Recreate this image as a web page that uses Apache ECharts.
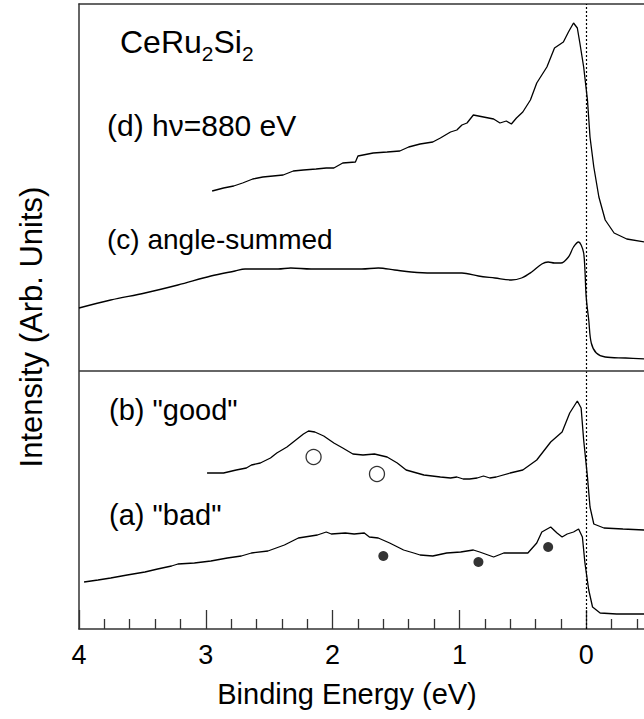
<!DOCTYPE html>
<html>
<head>
<meta charset="utf-8">
<script src="https://cdn.jsdelivr.net/npm/echarts@6/dist/echarts.min.js"></script>
<style>
html,body{margin:0;padding:0;background:#fff;overflow:hidden;width:644px;height:719px;}
#chart{width:720px;height:719px;}
</style>
</head>
<body>
<div id="chart"></div>
<script>
// Binding energy (eV) and intensity (arb. units, offset curves)
const energyA = [3.96,3.85,3.75,3.62,3.48,3.38,3.27,3.22,3.09,2.96,2.83,2.72,2.64,2.51,2.38,2.27,2.17,2.12,2.05,2.01,1.90,1.83,1.75,1.71,1.64,1.55,1.44,1.36,1.31,1.21,1.10,0.99,0.89,0.84,0.73,0.65,0.55,0.46,0.39,0.35,0.28,0.23,0.19,0.15,0.10,0.06,0.03,0.01,-0.02,-0.05,-0.11,-0.24,-0.46];
const intensityA = [47,49,51,54,57,60,63,65,66,68,71,73,76,78,84,91,93,94,97,95,96,95,96,92,91,86,79,76,74,73,76,77,79,77,72,76,76,76,86,97,102,96,92,95,97,100,92,66,39,22,16,15,15];

const energyB = [2.99,2.86,2.76,2.68,2.64,2.57,2.49,2.44,2.36,2.28,2.23,2.19,2.14,2.07,1.99,1.92,1.84,1.76,1.67,1.57,1.49,1.42,1.28,1.15,1.07,1.02,0.97,0.92,0.86,0.81,0.76,0.71,0.60,0.50,0.39,0.28,0.19,0.13,0.07,0.04,0.02,-0.01,-0.03,-0.06,-0.14,-0.29,-0.46];
const intensityB = [156,156,159,161,164,166,171,176,182,190,195,198,197,193,186,181,175,174,175,172,166,159,154,152,151,152,150,150,151,153,151,152,156,159,169,187,197,216,228,221,189,152,122,105,101,100,99];

const energyC = [4.00,3.75,3.48,3.22,2.96,2.77,2.69,2.43,2.33,2.17,1.96,1.77,1.64,1.51,1.38,1.22,0.98,0.85,0.72,0.59,0.51,0.43,0.35,0.30,0.25,0.20,0.14,0.10,0.06,0.04,0.02,0.01,0.00,-0.02,-0.04,-0.08,-0.15,-0.31,-0.46];
const intensityC = [321,329,336,344,353,358,360,360,361,360,360,360,361,359,357,356,356,353,351,349,351,357,365,367,366,366,372,382,387,384,376,359,332,309,286,276,272,271,270];

const energyD = [2.95,2.86,2.78,2.71,2.63,2.55,2.47,2.39,2.31,2.23,2.13,2.05,1.99,1.92,1.82,1.80,1.68,1.57,1.47,1.40,1.31,1.21,1.15,1.07,1.02,0.98,0.94,0.89,0.81,0.73,0.68,0.63,0.59,0.55,0.50,0.44,0.39,0.31,0.25,0.18,0.14,0.10,0.07,0.05,0.02,-0.01,-0.03,-0.06,-0.10,-0.15,-0.22,-0.32,-0.46];
const intensityD = [438,441,443,446,450,452,453,454,458,459,460,461,461,466,467,473,476,477,478,482,485,487,491,497,499,504,506,514,512,510,506,508,505,511,517,529,546,562,581,587,597,606,601,586,562,529,492,462,432,409,396,390,387];

// markers: open circles on (b), filled dots on (a)
const openE = [2.15, 1.65];
const openI = [172, 155];
const filledE = [1.60, 0.85, 0.30];
const filledI = [73, 67, 82];

// reference lines
const fermiLevel = 0;
const panelDivider = 258;

// axis ticks
const xTicks = [-1, 0, 1, 2, 3, 4];

const pairs = (xs, ys) => xs.map((x, i) => [x, ys[i]]);
const FONT = '"Liberation Sans", Arial, Helvetica, sans-serif';
const frameColor = '#333';

const chart = echarts.init(document.getElementById('chart'), null, {renderer: 'svg'});

const lineSeries = (name, data, smooth) => ({
  name, type: 'line', data, showSymbol: false, symbol: 'none', smooth: smooth || false,
  lineStyle: {color: '#000', width: 1.3}, z: 3, silent: true
});

chart.setOption({
  animation: false,
  backgroundColor: '#fff',
  grid: {left: 79, right: 7, top: 4, bottom: 90, containLabel: false},
  xAxis: [{
    type: 'value', min: xTicks[0], max: xTicks[xTicks.length - 1], interval: 1, inverse: true,
    position: 'bottom',
    axisLine: {show: true, onZero: false, lineStyle: {color: frameColor, width: 1.5}},
    axisTick: {show: true, inside: true, length: 19, lineStyle: {color: frameColor, width: 1.3}},
    minorTick: {show: true, splitNumber: 5, length: 10, lineStyle: {color: frameColor, width: 1.3}},
    axisLabel: {show: true, color: '#000', fontSize: 27, fontFamily: FONT, margin: 12,
      formatter: v => (v < 0 ? '' : String(v))},
    splitLine: {show: false}, minorSplitLine: {show: false}
  }, {
    type: 'value', min: xTicks[0], max: xTicks[xTicks.length - 1], inverse: true,
    position: 'top',
    axisLine: {show: true, onZero: false, lineStyle: {color: frameColor, width: 1.5}},
    axisTick: {show: false}, axisLabel: {show: false}, splitLine: {show: false}
  }],
  yAxis: {
    type: 'value', min: 0, max: 625,
    axisLine: {show: true, onZero: false, lineStyle: {color: frameColor, width: 1.5}},
    axisTick: {show: false}, axisLabel: {show: false}, splitLine: {show: false}
  },
  series: [
    Object.assign(lineSeries('(a) bad', pairs(energyA, intensityA)), {
      markLine: {
        silent: true, symbol: ['none', 'none'], label: {show: false}, animation: false,
        data: [
          {xAxis: fermiLevel, lineStyle: {color: '#000', width: 1.2, type: [2, 2]}},
          {yAxis: panelDivider, lineStyle: {color: frameColor, width: 1.5, type: 'solid'}}
        ]
      }
    }),
    lineSeries('(b) good', pairs(energyB, intensityB)),
    lineSeries('(c) angle-summed', pairs(energyC, intensityC), 0.35),
    lineSeries('(d) hv=880 eV', pairs(energyD, intensityD)),
    {
      type: 'scatter', data: pairs(openE, openI), symbol: 'circle', symbolSize: 15, z: 5,
      itemStyle: {color: '#fff', borderColor: '#000', borderWidth: 1.3}, silent: true
    },
    {
      type: 'scatter', data: pairs(filledE, filledI), symbol: 'circle', symbolSize: 10, z: 5,
      itemStyle: {color: '#000'}, silent: true
    }
  ],
  graphic: [
    {type: 'text', x: 120, y: 42, style: {text: 'CeRu', font: '32px ' + FONT, fill: '#000', textAlign: 'left', textVerticalAlign: 'middle'}},
    {type: 'text', x: 201.8, y: 53, style: {text: '2', font: '21px ' + FONT, fill: '#000', textAlign: 'left', textVerticalAlign: 'middle'}},
    {type: 'text', x: 213.5, y: 42, style: {text: 'Si', font: '32px ' + FONT, fill: '#000', textAlign: 'left', textVerticalAlign: 'middle'}},
    {type: 'text', x: 241.9, y: 53, style: {text: '2', font: '21px ' + FONT, fill: '#000', textAlign: 'left', textVerticalAlign: 'middle'}},
    {type: 'text', x: 107, y: 125, style: {text: '(d) h\u03bd=880 eV', font: '30px ' + FONT, fill: '#000', textAlign: 'left', textVerticalAlign: 'middle'}},
    {type: 'text', x: 107, y: 239, style: {text: '(c) angle-summed', font: '28px ' + FONT, fill: '#000', textAlign: 'left', textVerticalAlign: 'middle'}},
    {type: 'text', x: 109, y: 410, style: {text: '(b) "good"', font: '29px ' + FONT, fill: '#000', textAlign: 'left', textVerticalAlign: 'middle'}},
    {type: 'text', x: 109, y: 515, style: {text: '(a) "bad"', font: '29px ' + FONT, fill: '#000', textAlign: 'left', textVerticalAlign: 'middle'}},
    {type: 'text', x: 347, y: 694, style: {text: 'Binding Energy (eV)', font: '29px ' + FONT, fill: '#000', textAlign: 'center', textVerticalAlign: 'middle'}},
    {type: 'text', x: 31, y: 327, rotation: Math.PI / 2, style: {text: 'Intensity (Arb. Units)', font: '31px ' + FONT, fill: '#000', textAlign: 'center', textVerticalAlign: 'middle'}}
  ]
});
</script>
</body>
</html>
